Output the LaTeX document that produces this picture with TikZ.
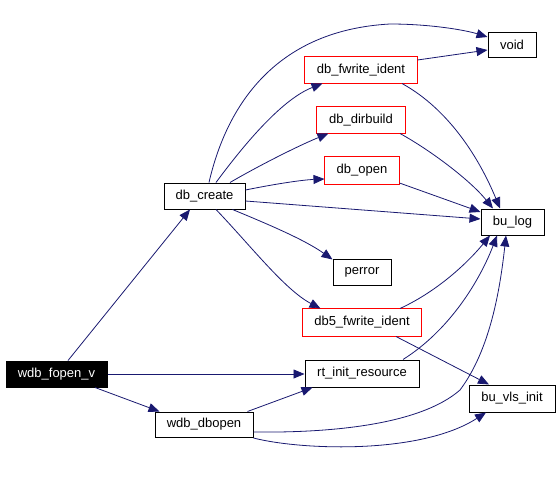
\documentclass[tikz,border=0pt]{standalone}
\usepackage{fontspec}
\setmainfont{Liberation Sans}
\usetikzlibrary{arrows.meta}
\definecolor{edgeblue}{HTML}{191970}
\definecolor{boxred}{RGB}{255,0,0}
\tikzset{
  fn/.style={draw=black, line width=1pt, fill=white, inner sep=0pt, minimum height=26pt, font=\fontsize{13}{15}\selectfont},
  redfn/.style={fn, draw=none},
  redframe/.style={boxred, line width=1pt},
  rootfn/.style={fn, fill=black, text=white},
  call/.style={draw=edgeblue, line width=0.8pt, -{Triangle[length=11pt,width=9pt]}, edgeblue},
}
\begin{document}
\begin{tikzpicture}[x=1pt,y=-1pt]
\useasboundingbox (0,0) rectangle (560,493);
% nodes
\node[rootfn, minimum width=101pt] (wfv) at (56.5,374) {wdb\_fopen\_v};
\node[fn, minimum width=81pt] (dbc) at (204.5,196) {db\_create};
\node[fn, minimum width=98pt, minimum height=25pt] (wdo) at (204,424.5) {wdb\_dbopen};
\node[fn, minimum width=48pt, minimum height=25pt] (void) at (512,44.5) {void};
\node[redfn, minimum width=112pt] (dfi) at (361,70) {db\_fwrite\_ident};
\node[redfn, minimum width=88pt] (ddb) at (361,120) {db\_dirbuild};
\node[redfn, minimum width=74pt, minimum height=27pt] (dop) at (362,170.5) {db\_open};
\node[fn, minimum width=63pt] (bul) at (512.5,222) {bu\_log};
\node[fn, minimum width=58pt] (per) at (362,272) {perror};
\node[redfn, minimum width=118pt, minimum height=27pt] (d5f) at (362,322.5) {db5\_fwrite\_ident};
\node[fn, minimum width=114pt, minimum height=27pt] (rir) at (362,373.5) {rt\_init\_resource};
\node[fn, minimum width=86pt, minimum height=27pt] (bvi) at (512,398.5) {bu\_vls\_init};
\draw[redframe] (dfi.south west) rectangle (dfi.north east);
\draw[redframe] (ddb.south west) rectangle (ddb.north east);
\draw[redframe] (dop.south west) rectangle (dop.north east);
\draw[redframe] (d5f.south west) rectangle (d5f.north east);
% edges from wdb_fopen_v
\draw[call] ([xshift=11.5pt]wfv.north) -- ([xshift=-14.5pt]dbc.south);
\draw[call] (wfv.east) -- (wfv.east -| rir.west);
\draw[call] ([xshift=38.5pt]wfv.south) -- ([xshift=5pt]wdo.north west);
% edges from db_create
\draw[call] ([xshift=4.5pt]dbc.north) .. controls (228,100) and (280,30) .. (390,24)
  .. controls (430,24) and (465,30) .. ([yshift=7.5pt]void.west);
\draw[call] ([xshift=11.5pt]dbc.north) .. controls (240,150) and (280,100) .. ([xshift=18pt]dfi.south west);
\draw[call] ([xshift=25.5pt]dbc.north) .. controls (260,165) and (300,145) .. ([xshift=12pt]ddb.south west);
\draw[call] ([yshift=6pt]dbc.east) .. controls (270,185) and (300,180) .. ([yshift=-8.5pt]dop.west);
\draw[call] ([yshift=-5pt]dbc.east) -- ([yshift=3pt]bul.west);
\draw[call] ([xshift=28pt]dbc.south) .. controls (270,225) and (305,240) .. ([yshift=-1pt]per.north west);
\draw[call] ([xshift=11.5pt]dbc.south) .. controls (250,245) and (285,290) .. ([xshift=18pt]d5f.north west);
% edges to bu_log and void
\draw[call] ([yshift=10pt]dfi.east) -- ([yshift=-5.5pt]void.west);
\draw[call] ([xshift=41pt]dfi.south) .. controls (450,110) and (480,160) .. ([xshift=-12.5pt]bul.north);
\draw[call] ([xshift=39pt]ddb.south) .. controls (430,150) and (470,180) .. ([xshift=-19.5pt]bul.north);
\draw[call] ([yshift=-12.5pt]dop.east) -- ([yshift=10pt]bul.west);
\draw[call] ([xshift=38pt]d5f.north) .. controls (440,290) and (470,260) .. ([xshift=-22.5pt]bul.south);
\draw[call] ([xshift=34pt]d5f.south) -- ([xshift=-23pt]bvi.north);
\draw[call] ([xshift=41pt]rir.north) .. controls (450,330) and (480,280) .. ([xshift=-15.5pt]bul.south);
% edges from wdb_dbopen
\draw[call] ([xshift=-6pt]wdo.north east) -- ([xshift=8pt]rir.south west);
\draw[call] ([yshift=-7.5pt]wdo.east) .. controls (330,433) and (420,425) .. (460,390)
  .. controls (490,350) and (500,290) .. ([xshift=-6.5pt]bul.south);
\draw[call] ([yshift=-13.5pt]wdo.east) .. controls (300,450) and (420,455) .. ([xshift=-26pt]bvi.south);
\end{tikzpicture}
\end{document}
